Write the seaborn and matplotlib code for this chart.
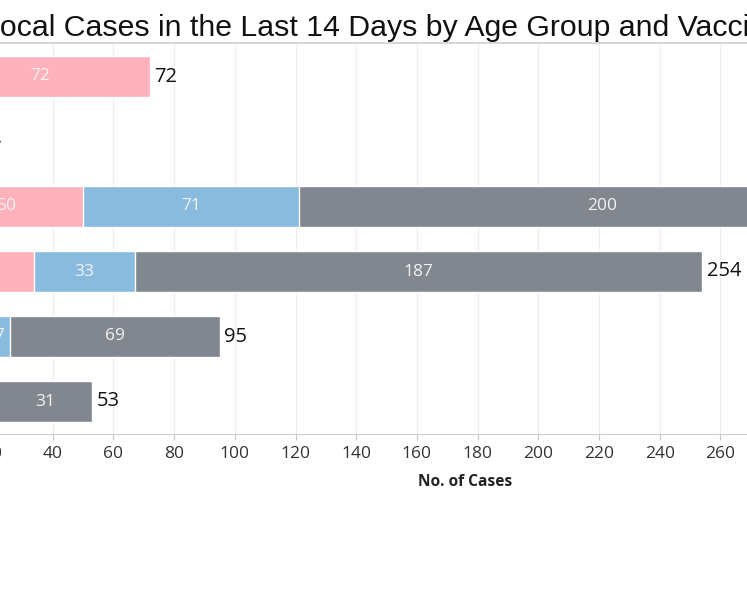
import matplotlib
matplotlib.use("Agg")
import matplotlib.pyplot as plt
from matplotlib.lines import Line2D
import seaborn as sns
import pandas as pd
import numpy as np

age_groups = ["0-11", "12-19", "20-39", "40-59", "60-69", "70 & above"]
unvaccinated = [72, 9, 50, 34, 19, 14]
partially_vaccinated = [0, 4, 71, 33, 7, 8]
fully_vaccinated = [0, 1, 200, 187, 69, 31]

xticks = list(range(0, 341, 20))

COL_UNV = "#ffb2bb"
COL_PART = "#89bbdf"
COL_FULL = "#81868f"

df = pd.DataFrame({
    "age": age_groups,
    "unv": unvaccinated,
    "part": partially_vaccinated,
    "full": fully_vaccinated,
})
df["c1"] = df["unv"]
df["c2"] = df["unv"] + df["part"]
df["c3"] = df["c2"] + df["full"]

sns.set_theme(style="white")
plt.rcParams["font.family"] = ["Open Sans", "DejaVu Sans"]

W, H = 747, 598
fig = plt.figure(figsize=(W / 100, H / 100), dpi=100)

px_per_unit = 3.035
x0_px = -68.7
xmax = 352
ax_top, ax_bot = 44, 434
ax = fig.add_axes([x0_px / W, (H - ax_bot) / H, xmax * px_per_unit / W, (ax_bot - ax_top) / H])

bw = 0.646
sns.barplot(data=df, x="c3", y="age", orient="h", color=COL_FULL, width=bw, saturation=1, ax=ax, order=age_groups)
sns.barplot(data=df, x="c2", y="age", orient="h", color=COL_PART, width=bw, saturation=1, ax=ax, order=age_groups)
sns.barplot(data=df, x="c1", y="age", orient="h", color=COL_UNV, width=bw, saturation=1, ax=ax, order=age_groups)

ax.set_xticks(xticks)
ax.set_xticklabels([str(t) for t in xticks], fontsize=12.5, color="#333333")
ax.set_xlim(0, xmax)
ax.set_ylim(len(age_groups) - 0.5, -0.5)
ax.tick_params(axis="x", length=4, width=0.8, color="#c8c8c8", pad=5, bottom=True)
ax.tick_params(axis="y", length=0, labelsize=11, pad=60)
ax.grid(axis="x", color="#efefef", linewidth=0.9)
ax.set_axisbelow(True)
for s in ["top", "right", "left"]:
    ax.spines[s].set_visible(False)
ax.spines["bottom"].set_color("#d0d0d0")
ax.spines["bottom"].set_linewidth(0.9)
ax.set_ylabel("")
ax.set_xlabel("No. of Cases", fontsize=11.2, fontweight="bold", color="#222222", labelpad=8)

for i in range(len(age_groups)):
    segs = [(0, unvaccinated[i]), (unvaccinated[i], partially_vaccinated[i]),
            (unvaccinated[i] + partially_vaccinated[i], fully_vaccinated[i])]
    for start, val in segs:
        if val > 0:
            ax.text(start + val / 2, i, str(val), ha="center", va="center",
                    fontsize=12.5, color="#f2f2f2")
    total = unvaccinated[i] + partially_vaccinated[i] + fully_vaccinated[i]
    ax.text(total + 1.5, i, str(total), ha="left", va="center", fontsize=14.5, color="#111111")

fig.text(-17 / W, (H - 36) / H, "Local Cases in the Last 14 Days by Age Group and Vaccination Status",
         fontsize=21.8, family=["Liberation Sans", "DejaVu Sans"], color="#111111",
         ha="left", va="baseline")
fig.add_artist(Line2D([0, 1], [(H - 43) / H, (H - 43) / H], transform=fig.transFigure,
                      color="#cfcfcf", linewidth=1.2))

fig.savefig("out.png", dpi=100)
